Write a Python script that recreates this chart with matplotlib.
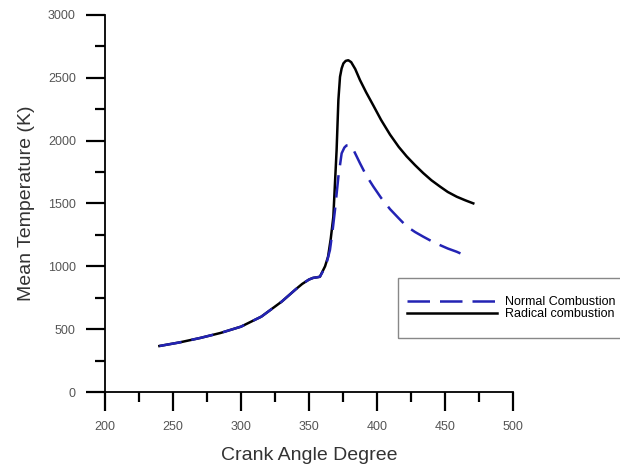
import numpy as np
import matplotlib.pyplot as plt
from matplotlib.patches import Rectangle

plt.rcParams['font.family'] = ['Liberation Sans', 'DejaVu Sans']

# compression part, common to both runs
comp_angle = [240, 255, 270, 285, 300, 315, 330, 340, 345, 350, 353, 356, 358]
comp_temp = [366, 395, 430, 470, 520, 600, 720, 815, 860, 895, 908, 913, 917]

# radical combustion (solid black)
rad_angle = [361.8, 364, 366, 367.9, 369, 370.3, 371.6, 372.8, 374, 375.3, 377,
             378.9, 381, 384, 387.5, 392, 397.3, 403, 409.6, 416, 421.8, 428,
             434, 440, 446.3, 452, 458.6, 465, 470.8]
rad_temp = [1000, 1076, 1220, 1395, 1640, 1925, 2323, 2508, 2575, 2615, 2635,
            2640, 2625, 2570, 2482, 2385, 2280, 2165, 2048, 1950, 1875, 1805,
            1742, 1685, 1635, 1592, 1554, 1525, 1501]

# normal combustion (blue dashed)
norm_angle = [361.8, 363.5, 365.4, 367.3, 369.1, 371.6, 374, 376, 377.6, 380,
              383, 387.5, 392, 397.3, 403, 409.6, 416, 421.8, 428, 434, 440,
              446.3, 452, 458.6, 463, 468]
norm_temp = [990, 1050, 1130, 1280, 1448, 1713, 1899, 1945, 1962, 1965, 1920,
             1820, 1725, 1635, 1545, 1455, 1382, 1318, 1273, 1236, 1201,
             1169, 1142, 1116, 1095, 1072]

fig = plt.figure(figsize=(6.2, 4.73), dpi=100)
ax = fig.add_axes([105/620, 81/473, 408/620, 377/473])

ax.plot(comp_angle + rad_angle, comp_temp + rad_temp, color='black', lw=1.8,
        label='Radical combustion')
ax.plot(comp_angle + norm_angle, comp_temp + norm_temp, color='#2323b4', lw=1.8,
        dashes=(9, 4), label='Normal Combustion')

ax.set_xlim(200, 500)
ax.set_ylim(0, 3000)
ax.set_xticks(np.arange(200, 501, 50))
ax.set_xticks(np.arange(225, 500, 50), minor=True)
ax.set_yticks(np.arange(0, 3001, 500))
ax.set_yticks(np.arange(250, 3000, 500), minor=True)

for s in ['top', 'right']:
    ax.spines[s].set_visible(False)
for s in ['left', 'bottom']:
    ax.spines[s].set_linewidth(1.3)

ax.tick_params(which='major', direction='out', length=14, width=1.6,
               labelsize=9, labelcolor='#555555', pad=7)
ax.tick_params(which='minor', direction='out', length=7, width=1.6)

ax.set_xlabel('Crank Angle Degree', fontsize=14, color='#333333', labelpad=10)
ax.set_ylabel('Mean Temperature (K)', fontsize=14, color='#333333', labelpad=9)

# legend box runs off the right edge like in the original
fig.patches.append(Rectangle((398/620, 1 - 338/473), 240/620, 60/473,
                             transform=fig.transFigure, fill=False,
                             edgecolor='#888888', lw=1.0))
h, l = ax.get_legend_handles_labels()
fig.legend(h[::-1], l[::-1], loc='center left', bbox_to_anchor=(407/620, 1 - 308/473),
           frameon=False, fontsize=9, handlelength=7.2, handletextpad=0.62,
           labelspacing=0.0, borderpad=0.0, borderaxespad=0.0)

fig.savefig('out.png', dpi=100)
